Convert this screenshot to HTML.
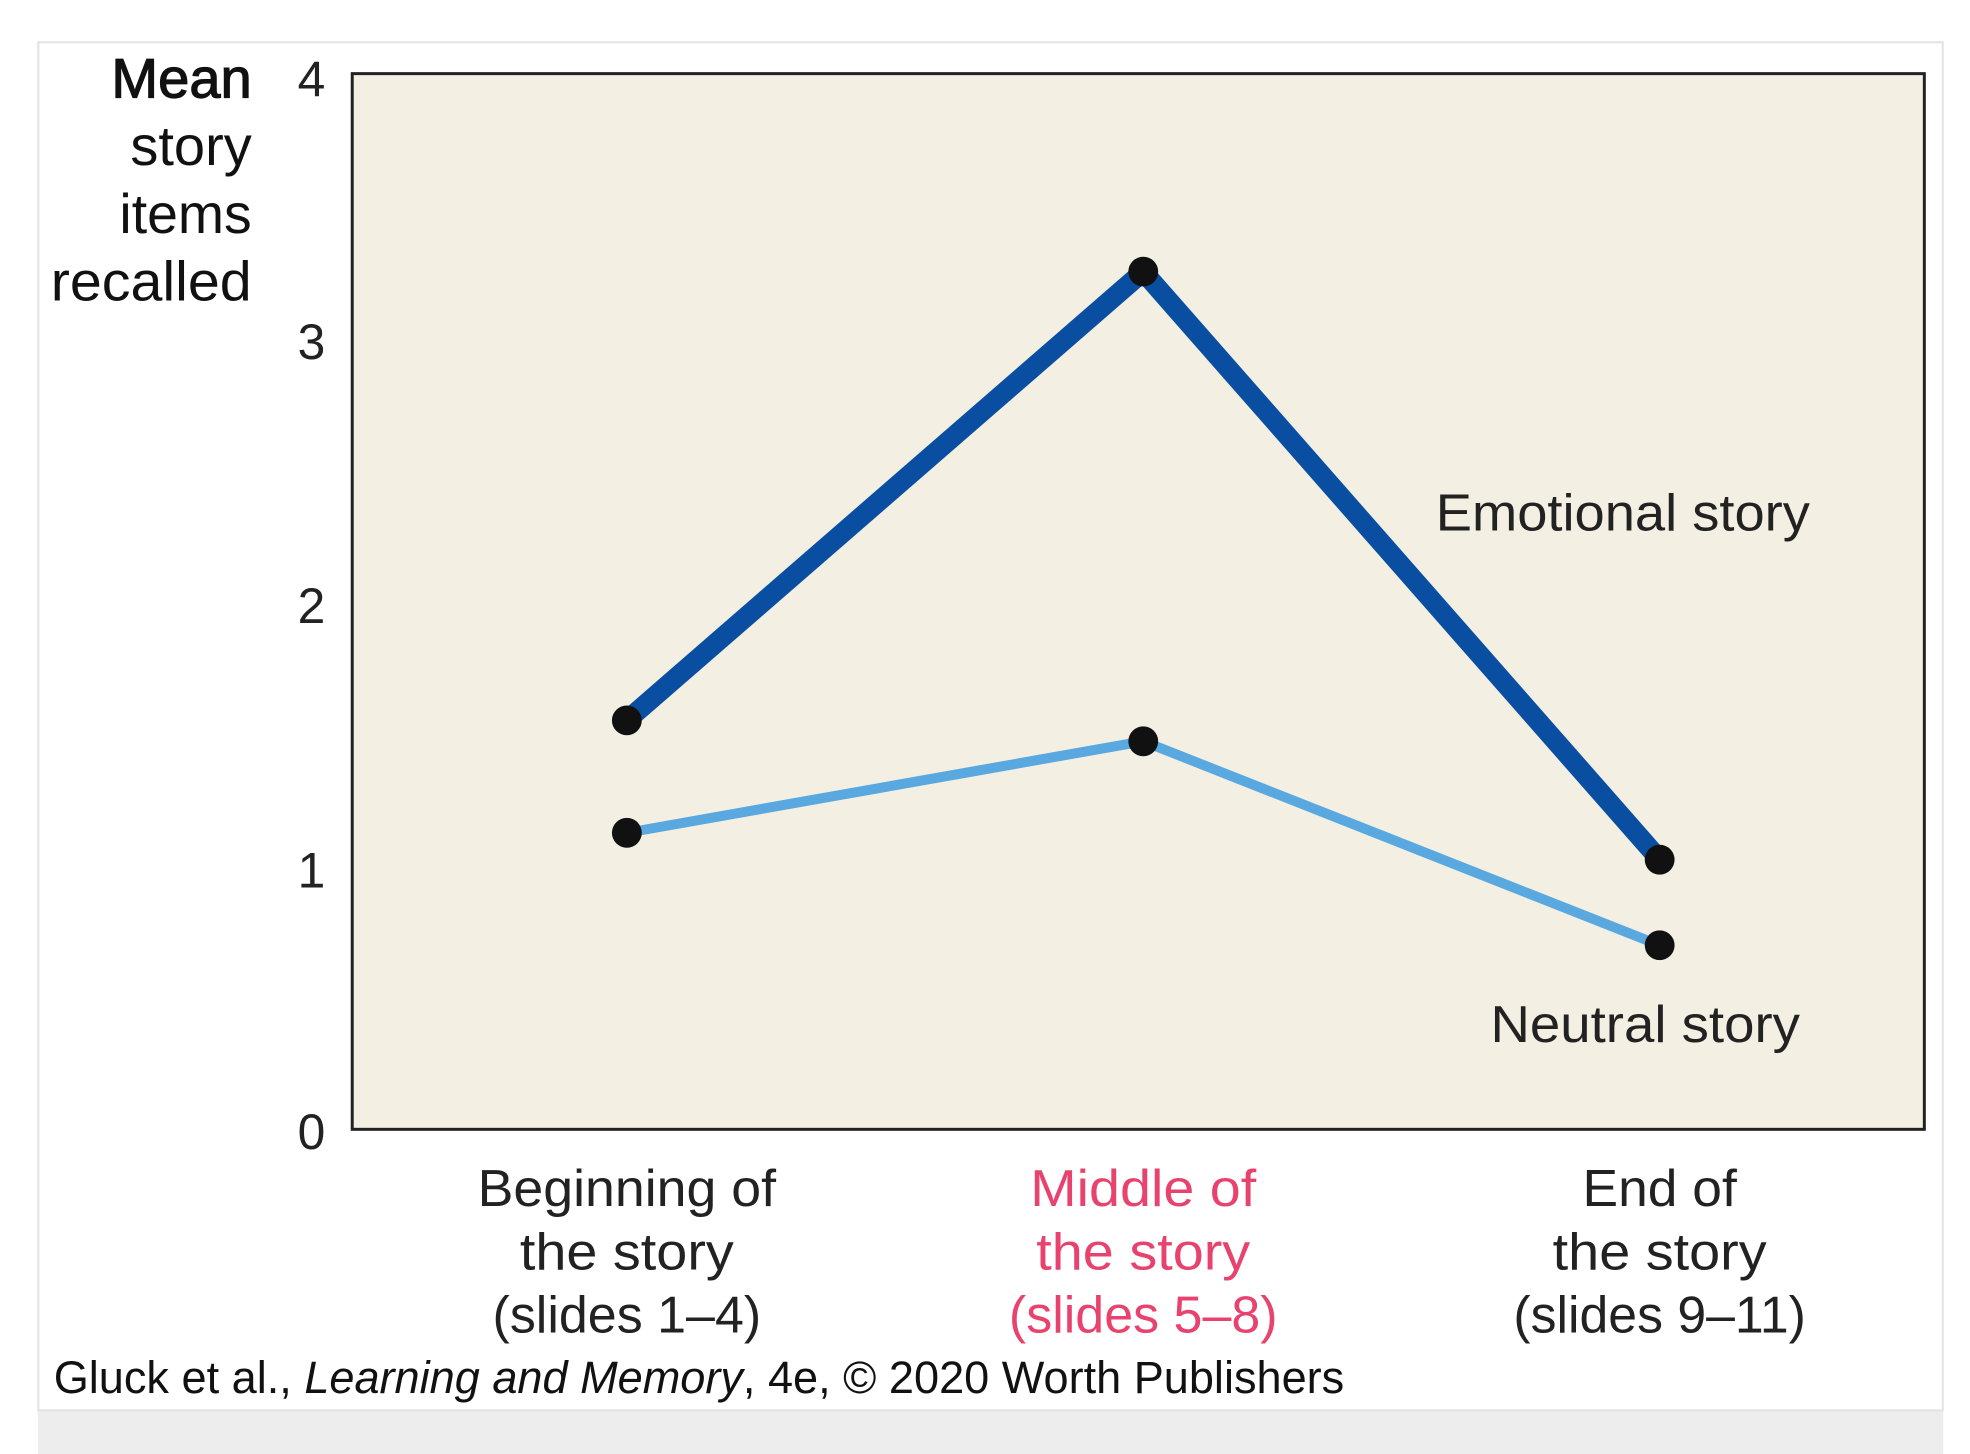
<!DOCTYPE html>
<html><head><style>html,body{margin:0;padding:0;background:#fff;}svg{display:block}</style></head>
<body>
<svg width="1970" height="1454" xmlns="http://www.w3.org/2000/svg" font-family="Liberation Sans, sans-serif">
<rect x="0" y="0" width="1970" height="1454" fill="#fff"/>
<g transform="scale(0.995)">
<rect x="38" y="1417" width="1915" height="45" fill="#ededed"/>
<rect x="38.5" y="42.5" width="1914" height="1375" fill="#fff" stroke="#e2e2e2" stroke-width="2"/>
<rect x="354" y="74" width="1580" height="1061" fill="#f3f0e3" stroke="#222" stroke-width="3"/>
<g font-size="50" fill="#222" text-anchor="middle">
<text x="313" y="97">4</text><text x="313" y="361">3</text><text x="313" y="626">2</text><text x="313" y="892">1</text><text x="313" y="1155">0</text>
</g>
<g font-size="56" fill="#111" text-anchor="end">
<text x="253" y="98" textLength="141" lengthAdjust="spacingAndGlyphs" stroke="#111" stroke-width="1.2">Mean</text>
<text x="253" y="166" textLength="122" lengthAdjust="spacingAndGlyphs">story</text>
<text x="253" y="234" textLength="133" lengthAdjust="spacingAndGlyphs">items</text>
<text x="253" y="302" textLength="202" lengthAdjust="spacingAndGlyphs">recalled</text>
</g>
<polyline points="630,724 1149,273 1668,864" fill="none" stroke="#0a4ea2" stroke-width="20" stroke-linejoin="miter"/>
<polyline points="630,837 1149,745 1668,950" fill="none" stroke="#5aa8e0" stroke-width="10"/>
<g fill="#111">
<circle cx="630" cy="724" r="15"/><circle cx="1149" cy="273" r="15"/><circle cx="1668" cy="864" r="15"/>
<circle cx="630" cy="837" r="15"/><circle cx="1149" cy="745" r="15"/><circle cx="1668" cy="950" r="15"/>
</g>
<g font-size="52" fill="#222">
<text x="1443" y="533" textLength="376" lengthAdjust="spacingAndGlyphs">Emotional story</text>
<text x="1498" y="1047" textLength="311" lengthAdjust="spacingAndGlyphs">Neutral story</text>
</g>
<g font-size="52" fill="#222" text-anchor="middle">
<text x="630" y="1212" textLength="300" lengthAdjust="spacingAndGlyphs">Beginning of</text>
<text x="630" y="1276" textLength="215" lengthAdjust="spacingAndGlyphs">the story</text>
<text x="630" y="1339" textLength="270" lengthAdjust="spacingAndGlyphs">(slides 1–4)</text>
<g fill="#e8436e">
<text x="1149" y="1212" textLength="227" lengthAdjust="spacingAndGlyphs">Middle of</text>
<text x="1149" y="1276" textLength="215" lengthAdjust="spacingAndGlyphs">the story</text>
<text x="1149" y="1339" textLength="270" lengthAdjust="spacingAndGlyphs">(slides 5–8)</text>
</g>
<text x="1668" y="1212" textLength="155" lengthAdjust="spacingAndGlyphs">End of</text>
<text x="1668" y="1276" textLength="215" lengthAdjust="spacingAndGlyphs">the story</text>
<text x="1668" y="1339" textLength="294" lengthAdjust="spacingAndGlyphs">(slides 9–11)</text>
</g>
<text x="54" y="1400" font-size="46" fill="#111" textLength="1297" lengthAdjust="spacingAndGlyphs">Gluck et al., <tspan font-style="italic">Learning and Memory</tspan>, 4e, © 2020 Worth Publishers</text>
</g>
</svg>
</body></html>
